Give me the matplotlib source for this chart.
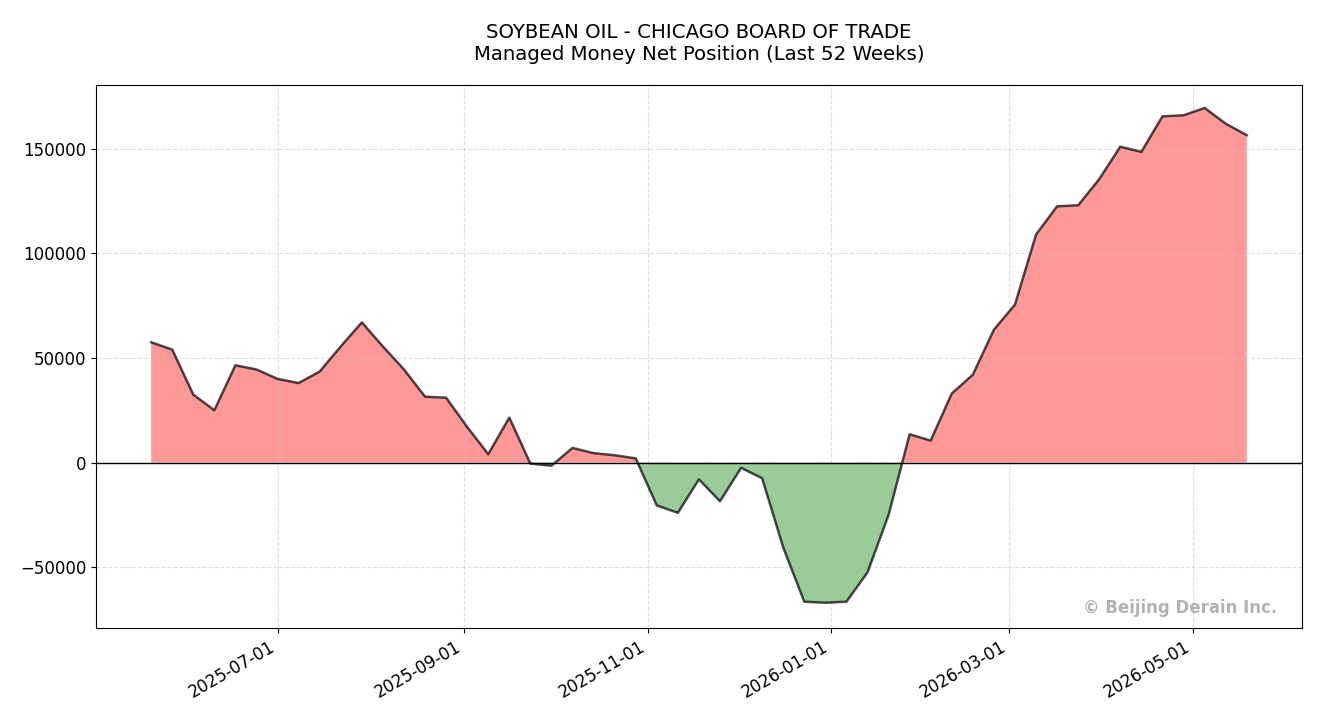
import numpy as np
import pandas as pd
import matplotlib
matplotlib.use("Agg")
import matplotlib.pyplot as plt

start_date = "2025-05-20"
net_position = [
    57500, 54000, 32500, 25000, 46500, 44500, 40000, 38000, 43500, 55500,
    67000, 55500, 44500, 31500, 31000, 17000, 4000, 21500, -500, -1500,
    7000, 4500, 3500, 2000, -20500, -24000, -8000, -18500, -2500, -7500,
    -40500, -66500, -67000, -66500, -52500, -25000, 13500, 10500, 33000, 42000,
    63500, 75500, 109000, 122500, 123000, 135500, 151000, 148500, 165500, 166000,
    169500, 162000, 156500,
]
dates = pd.date_range(start_date, periods=len(net_position), freq="7D")
vals = np.array(net_position)

fig, ax = plt.subplots(figsize=(13.2, 7.2), dpi=100)
fig.subplots_adjust(left=0.073, right=0.986, top=0.882, bottom=0.128)

ax.fill_between(dates, vals, 0, where=vals >= 0, interpolate=True, color="red", alpha=0.4, linewidth=0)
ax.fill_between(dates, vals, 0, where=vals < 0, interpolate=True, color="green", alpha=0.4, linewidth=0)
ax.plot(dates, vals, color="black", alpha=0.7, linewidth=1.8)
ax.axhline(0, color="black", linewidth=1)

ax.set_ylim(-79000, 180500)
ax.set_xticks(pd.to_datetime(["2025-07-01", "2025-09-01", "2025-11-01",
                              "2026-01-01", "2026-03-01", "2026-05-01"]))
ax.xaxis.set_major_formatter(matplotlib.dates.DateFormatter("%Y-%m-%d"))
plt.setp(ax.get_xticklabels(), rotation=30, ha="right")
ax.tick_params(labelsize=12)
ax.grid(True, linestyle="--", alpha=0.4)

ax.set_title("SOYBEAN OIL - CHICAGO BOARD OF TRADE\nManaged Money Net Position (Last 52 Weeks)",
             fontsize=14.2, pad=18)
ax.text(0.98, 0.02, "© Beijing Derain Inc.", transform=ax.transAxes, ha="right", va="bottom",
        fontsize=12, fontweight="bold", color="gray", alpha=0.6)

fig.savefig("out.png")
